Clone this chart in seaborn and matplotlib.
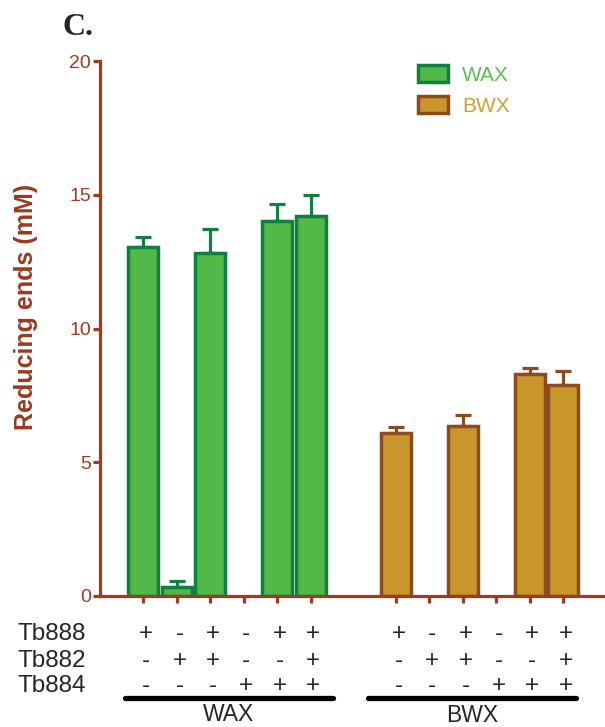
import numpy as np
import pandas as pd
import matplotlib
matplotlib.use("Agg")
import matplotlib.pyplot as plt
import matplotlib.transforms as mtransforms
from matplotlib.patches import Patch
import seaborn as sns

# Reducing ends (mM), mean and upper SD per enzyme combination
combos = ["888", "882", "888+882", "884", "888+884", "888+882+884"]
wax_mean = [13.05, 0.32, 12.82, None, 14.02, 14.22]
wax_sd = [0.38, 0.24, 0.91, None, 0.65, 0.78]
bwx_mean = [6.08, None, 6.37, None, 8.31, 7.89]
bwx_sd = [0.23, None, 0.38, None, 0.21, 0.51]

# presence (+) / absence (-) of each enzyme in the six reactions
enzymes = ["Tb888", "Tb882", "Tb884"]
tb888 = ["+", "-", "+", "-", "+", "+"]
tb882 = ["-", "+", "+", "-", "-", "+"]
tb884 = ["-", "-", "-", "+", "+", "+"]

substrates = ["WAX", "BWX"]
y_ticks = [0, 5, 10, 15, 20]

AXIS = "#a03a20"
WAX_FILL, WAX_EDGE = "#52b847", "#0f8040"
BWX_FILL, BWX_EDGE = "#c9962b", "#8c4a1e"
WAX_TEXT, BWX_TEXT = "#5ec04f", "#d29f32"

sns.set_style("ticks")
plt.rcParams["font.family"] = ["Liberation Sans", "DejaVu Sans"]

W, H = 605, 727
fig = plt.figure(figsize=(W / 100, H / 100), dpi=100)
ax = fig.add_axes([100 / W, 1 - 596 / H, 505 / W, 535 / H])

group_gap = 7.55
pos_wax = np.arange(len(combos), dtype=float)
pos_bwx = pos_wax + group_gap


def frame(pos, mean, sd, name):
    rows = [(p, m, s) for p, m, s in zip(pos, mean, sd) if m is not None]
    return pd.DataFrame(rows, columns=["x", "value", "sd"]).assign(substrate=name)


df_wax = frame(pos_wax, wax_mean, wax_sd, "WAX")
df_bwx = frame(pos_bwx, bwx_mean, bwx_sd, "BWX")

for d, fill, edge in [(df_wax, WAX_FILL, WAX_EDGE), (df_bwx, BWX_FILL, BWX_EDGE)]:
    ax.errorbar(d["x"], d["value"], yerr=[np.zeros(len(d)), d["sd"]], fmt="none",
                ecolor=edge, elinewidth=2.3, capsize=6, capthick=2.3, zorder=1)
    sns.barplot(data=d, x="x", y="value", native_scale=True, width=0.9,
                color=fill, edgecolor=edge, linewidth=2.5, saturation=1,
                errorbar=None, ax=ax, zorder=2)

all_pos = np.concatenate([pos_wax, pos_bwx])
ax.set_xticks(all_pos)
ax.set_xticklabels([])
ax.set_xlim(-1.295, 13.80)
ax.set_ylim(0, 20)
ax.set_yticks(y_ticks)
ax.set_xlabel("")
ax.set_ylabel("")
sns.despine(ax=ax)
for side in ["left", "bottom"]:
    ax.spines[side].set_color(AXIS)
    ax.spines[side].set_linewidth(2.3)
ax.tick_params(axis="both", colors=AXIS, width=2.3, length=5, labelsize=14, pad=1.5)
ax.tick_params(axis="x", labelbottom=False)

# y-axis title
fig.text(26 / W, 1 - 307 / H, "Reducing ends (mM)", rotation=90, ha="center", va="center",
         fontsize=18, fontweight="bold", color="#9a3a1f")

# panel letter
fig.text(62 / W, 1 - 35 / H, "C.", fontsize=23, fontweight="bold", va="baseline",
         family=["Liberation Serif", "DejaVu Serif"])

# legend
handles = [Patch(facecolor=WAX_FILL, edgecolor=WAX_EDGE, linewidth=2.5),
           Patch(facecolor=BWX_FILL, edgecolor=BWX_EDGE, linewidth=2.5)]
ax.legend(handles, substrates, loc="upper left", bbox_to_anchor=(418 / W, 1 - 65 / H),
          bbox_transform=fig.transFigure, frameon=False, fontsize=15,
          handlelength=1.45, handleheight=0.85, handletextpad=0.65,
          labelspacing=0.55, borderpad=0, borderaxespad=0,
          labelcolor=[WAX_TEXT, BWX_TEXT])

# +/- table below the axis
tr = mtransforms.blended_transform_factory(ax.transData, fig.transFigure)
row_base = [640, 667, 692]
for name, signs, yb in zip(enzymes, [tb888, tb882, tb884], row_base):
    fig.text(17 / W, 1 - yb / H, name, fontsize=17.5, va="baseline", ha="left")
    for p, s in zip(all_pos, signs + signs):
        ax.text(p + 0.08, 1 - yb / H, s, transform=tr, fontsize=17.5, va="baseline",
                ha="center", clip_on=False)

# group brackets and their names
bracket_y = 1 - 697.5 / H
for start, end, label, ty in [(-0.55, 5.67, "WAX", 703), (group_gap - 0.83, group_gap + 5.39, "BWX", 704)]:
    ax.plot([start, end], [bracket_y, bracket_y], transform=tr, color="black",
            linewidth=3.8, solid_capstyle="round", clip_on=False)
    ax.text((start + end) / 2, 1 - ty / H, label, transform=tr, fontsize=16.5,
            ha="center", va="top", clip_on=False)

fig.savefig("out.png", dpi=100)
